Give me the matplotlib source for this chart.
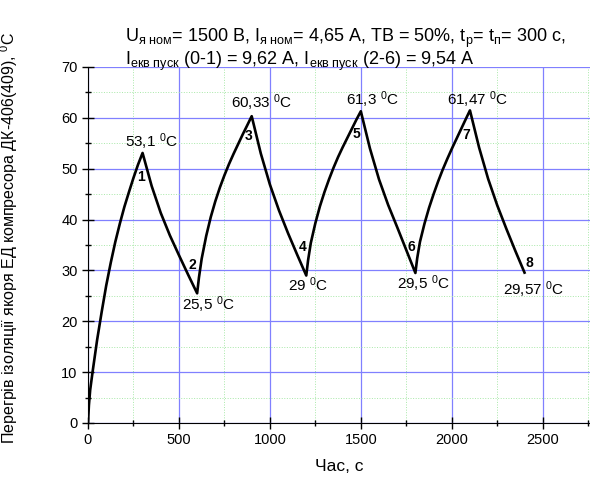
import matplotlib
matplotlib.use('Agg')
import matplotlib.pyplot as plt
from matplotlib.ticker import MultipleLocator

plt.rcParams['font.family'] = ['Liberation Sans', 'DejaVu Sans']
plt.rcParams['mathtext.fontset'] = 'custom'
plt.rcParams['mathtext.rm'] = 'Liberation Sans'
plt.rcParams['mathtext.it'] = 'Liberation Sans'

# curve (time, s / temperature rise, deg C)
t = [0, 5, 12, 25, 50, 75, 100, 125, 150, 175, 200, 225, 250, 275, 300,
     350, 400, 450, 500, 550, 600,
     610, 625, 650, 675, 700, 725, 750, 775, 800, 825, 850, 875, 900,
     950, 1000, 1050, 1100, 1150, 1200,
     1210, 1225, 1250, 1275, 1300, 1325, 1350, 1375, 1400, 1425, 1450, 1475, 1500,
     1550, 1600, 1650, 1700, 1750, 1800,
     1810, 1825, 1850, 1875, 1900, 1925, 1950, 1975, 2000, 2025, 2050, 2075, 2100,
     2150, 2200, 2250, 2300, 2350, 2400]
temp = [0, 3.5, 6.5, 10, 16.3, 21.8, 27.0, 31.5, 35.6, 39.2, 42.5, 45.4, 48.2, 50.8, 53.1,
        46.6, 41.3, 36.9, 33.0, 29.2, 25.5,
        28.6, 32.3, 36.8, 40.5, 43.6, 46.3, 48.7, 50.9, 52.9, 54.8, 56.7, 58.5, 60.33,
        53.0, 46.9, 41.8, 37.3, 33.1, 29,
        32.0, 35.4, 39.3, 42.6, 45.4, 47.9, 50.2, 52.3, 54.2, 56.0, 57.8, 59.6, 61.3,
        54.0, 47.9, 42.9, 38.5, 34.0, 29.5,
        32.4, 35.6, 39.2, 42.3, 45.0, 47.5, 49.8, 51.9, 53.9, 55.8, 57.7, 59.6, 61.47,
        54.2, 48.0, 42.8, 38.2, 33.8, 29.57]

# value labels
val_text = ['53,1', '60,33', '61,3', '61,47', '25,5', '29', '29,5', '29,57']
val_x = [346, 955, 1565, 2141, 664, 1207, 1845, 2448]
val_y = [55.3, 62.9, 63.5, 63.5, 23.2, 27.1, 27.3, 26.3]

# point numbers
num_text = ['1', '2', '3', '4', '5', '6', '7', '8']
num_x = [291, 571, 884, 1180, 1476, 1778, 2080, 2426]
num_y = [48.4, 31.1, 56.4, 34.6, 56.8, 34.6, 56.6, 31.5]

fig = plt.figure(figsize=(5.90, 4.79), dpi=100)
ax = fig.add_axes([88/590, 56/479, 1 - 88/590, 356/479])

ax.plot(t, temp, color='black', lw=1.9, zorder=3, solid_joinstyle='round')

for s, x, y in zip(val_text, val_x, val_y):
    ax.text(x, y, s + r' $^{0}$C', ha='center', va='center', fontsize=11)
for s, x, y in zip(num_text, num_x, num_y):
    ax.text(x, y, s, ha='center', va='center', fontsize=10, fontweight='bold')

ax.set_xlim(0, 2760)
ax.set_ylim(0, 70)
ax.xaxis.set_major_locator(MultipleLocator(500))
ax.xaxis.set_minor_locator(MultipleLocator(250))
ax.yaxis.set_major_locator(MultipleLocator(10))
ax.yaxis.set_minor_locator(MultipleLocator(5))
ax.grid(which='major', color='#8080ff', lw=0.9, ls='-')
ax.grid(which='minor', color='#a8e8a8', lw=0.7, ls=':')
ax.set_axisbelow(True)

ax.spines['top'].set_visible(False)
ax.spines['right'].set_visible(False)
ax.tick_params(which='major', direction='inout', length=8, width=1, labelsize=10.5)
ax.tick_params(which='minor', direction='inout', length=5, width=1)

ax.set_xlabel('Час, с', fontsize=12.5, labelpad=8)
ax.set_ylabel(r'Перегрів ізоляції якоря ЕД компресора ДК-406(409), $^{0}$С', fontsize=11.5)
ax.yaxis.set_label_coords(-0.135, 0.52)

line1 = (r'U$_{\mathrm{я\ ном}}$= 1500 В, I$_{\mathrm{я\ ном}}$= 4,65 А, ТВ = 50%, '
         r't$_{\mathrm{р}}$= t$_{\mathrm{п}}$= 300 с,')
line2 = r'I$_{\mathrm{екв\ пуск}}$ (0-1) = 9,62 А, I$_{\mathrm{екв\ пуск}}$ (2-6) = 9,54 А'
fig.text(125/590, 1 - 38/479, line1, fontsize=13, va='center', ha='left')
fig.text(125/590, 1 - 61/479, line2, fontsize=13, va='center', ha='left')

fig.savefig('out.png', dpi=100)
